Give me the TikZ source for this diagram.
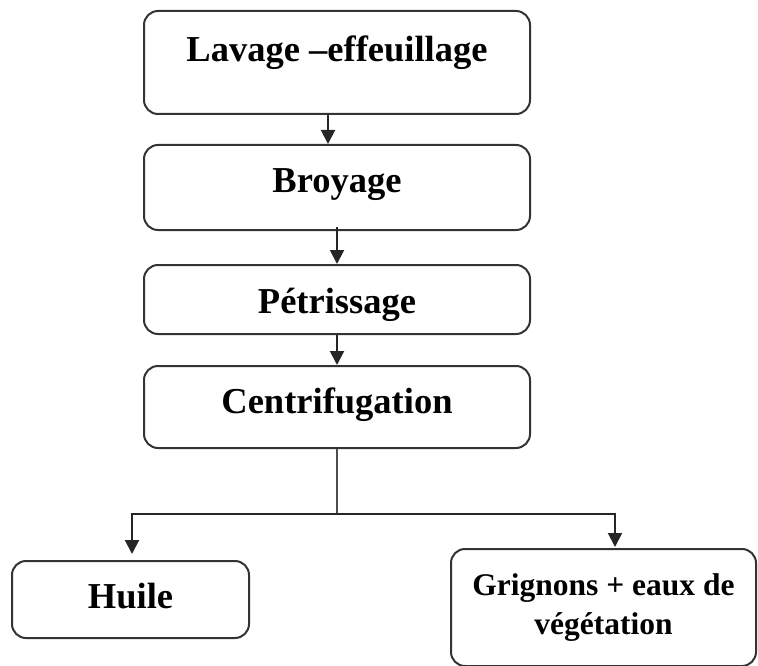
\documentclass[tikz,border=0pt]{standalone}
\usepackage{fontspec}
\setmainfont{Liberation Serif}
\usetikzlibrary{arrows.meta}
\tikzstyle{box}=[rectangle,draw=black!80,line width=2pt,rounded corners=14pt,inner sep=0pt,align=center,font=\fontsize{36.5}{40}\selectfont\bfseries]
\tikzstyle{arr}=[draw=black!85,line width=2pt,-{Triangle[width=14pt,length=14pt]}]
\tikzstyle{ln}=[draw=black!70,line width=2pt]

\begin{document}
\begin{tikzpicture}[x=1pt,y=-1pt]
\useasboundingbox (0,0) rectangle (758,666);
\node[box,anchor=north,minimum width=386pt,text height=51pt,text depth=52pt] (lav) at (337,10) {Lavage –effeuillage};
\node[box,anchor=north,minimum width=386pt,text height=48pt,text depth=37pt] (broy) at (337,144) {Broyage};
\node[box,anchor=north,minimum width=386pt,text height=48pt,text depth=21pt] (petr) at (337,264) {Pétrissage};
\node[box,anchor=north,minimum width=386pt,text height=47pt,text depth=35pt] (cent) at (337,365) {Centrifugation};
\node[box,anchor=north,minimum width=237pt,text height=47pt,text depth=30pt] (huile) at (130.5,560) {Huile};
\node[box,anchor=north,minimum width=305pt,minimum height=117pt,font=\fontsize{31.5}{39}\selectfont\bfseries] (grig) at (603.5,548) {Grignons + eaux de\\végétation};
\draw[arr] ([xshift=-9pt]lav.south) -- ([xshift=-9pt]broy.north);
\draw[arr] ([yshift=4pt]broy.south) -- (petr.north);
\draw[arr] (petr.south) -- (cent.north);
\draw[ln] (cent.south) -- ++(0,65) coordinate (split);
\draw[arr,shorten >=6pt] (split) -| ([xshift=1.5pt]huile.north);
\draw[arr,shorten >=1pt] (split) -| ([xshift=11.5pt]grig.north);
\end{tikzpicture}
\end{document}
